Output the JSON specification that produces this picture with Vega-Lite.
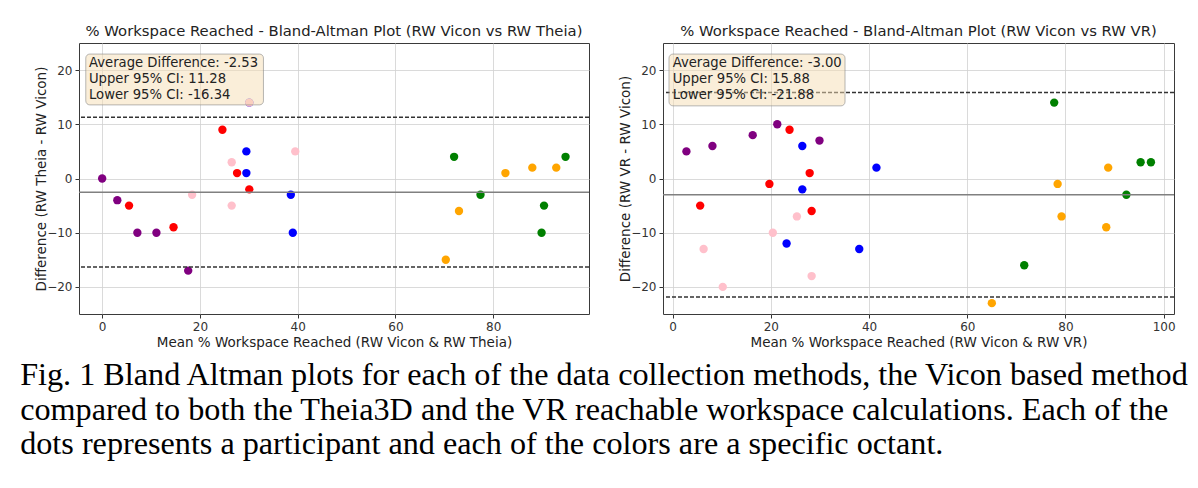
{
  "$schema": "https://vega.github.io/schema/vega-lite/v6.json",
  "background": "white",
  "padding": {"left": 20, "top": 23, "right": 5, "bottom": 5},
  "autosize": {"type": "pad"},
  "config": {
    "font": "DejaVu Sans",
    "view": {"stroke": "#3a3a3a", "strokeWidth": 1},
    "axis": {
      "grid": true, "gridColor": "#d0d0d0", "gridWidth": 0.8, "domain": false,
      "tickColor": "#333", "tickSize": 4, "labelFontSize": 12, "labelColor": "#333",
      "titleFontSize": 13.5, "titleFontWeight": "normal", "titleColor": "#222",
      "labelPadding": 3, "titlePadding": 5, "zindex": 1
    },
    "axisY": {"titlePadding": -2},
    "axisX": {"titlePadding": 3},
    "concat": {"spacing": 27},
    "title": {"fontSize": 14.8, "fontWeight": "normal", "color": "#222", "offset": 4}
  },
  "title": {
    "text": ["Fig. 1 Bland Altman plots for each of the data collection methods, the Vicon based method", "compared to both the Theia3D and the VR reachable workspace calculations.  Each of the", "dots represents a participant and each of the colors are a specific octant."],
    "orient": "bottom", "anchor": "start", "frame": "bounds", "font": "Liberation Serif", "fontSize": 32.2, "fontWeight": "normal", "lineHeight": 34.5, "color": "black", "offset": 11, "dx": -14
  },
  "datasets": {
    "theia": [
      {"octant": "purple", "mean": 0, "diff": 0}, {"octant": "purple", "mean": 3.1, "diff": -4}, {"octant": "purple", "mean": 7.2, "diff": -10}, {"octant": "purple", "mean": 11.1, "diff": -10}, {"octant": "purple", "mean": 17.6, "diff": -17},
      {"octant": "red", "mean": 24.6, "diff": 9}, {"octant": "red", "mean": 27.6, "diff": 1}, {"octant": "red", "mean": 30.1, "diff": -2}, {"octant": "red", "mean": 5.5, "diff": -5}, {"octant": "red", "mean": 14.6, "diff": -9},
      {"octant": "blue", "mean": 29.5, "diff": 5}, {"octant": "blue", "mean": 29.5, "diff": 1}, {"octant": "blue", "mean": 38.6, "diff": -3}, {"octant": "blue", "mean": 39.0, "diff": -10}, {"octant": "blue", "mean": 30.1, "diff": 14},
      {"octant": "pink", "mean": 26.5, "diff": 3}, {"octant": "pink", "mean": 39.5, "diff": 5}, {"octant": "pink", "mean": 18.4, "diff": -3}, {"octant": "pink", "mean": 26.5, "diff": -5}, {"octant": "pink", "mean": 30.1, "diff": 14},
      {"octant": "green", "mean": 72.0, "diff": 4}, {"octant": "green", "mean": 94.8, "diff": 4}, {"octant": "green", "mean": 77.4, "diff": -3}, {"octant": "green", "mean": 90.4, "diff": -5}, {"octant": "green", "mean": 89.9, "diff": -10},
      {"octant": "orange", "mean": 82.5, "diff": 1}, {"octant": "orange", "mean": 88.0, "diff": 2}, {"octant": "orange", "mean": 92.9, "diff": 2}, {"octant": "orange", "mean": 73.0, "diff": -6}, {"octant": "orange", "mean": 70.3, "diff": -15}
    ],
    "vr": [
      {"octant": "purple", "mean": 2.8, "diff": 5}, {"octant": "purple", "mean": 8.1, "diff": 6}, {"octant": "purple", "mean": 16.3, "diff": 8}, {"octant": "purple", "mean": 21.3, "diff": 10}, {"octant": "purple", "mean": 29.9, "diff": 7},
      {"octant": "red", "mean": 23.8, "diff": 9}, {"octant": "red", "mean": 27.9, "diff": 1}, {"octant": "red", "mean": 19.7, "diff": -1}, {"octant": "red", "mean": 5.6, "diff": -5}, {"octant": "red", "mean": 28.3, "diff": -6},
      {"octant": "blue", "mean": 26.4, "diff": 6}, {"octant": "blue", "mean": 41.5, "diff": 2}, {"octant": "blue", "mean": 26.4, "diff": -2}, {"octant": "blue", "mean": 23.2, "diff": -12}, {"octant": "blue", "mean": 38.0, "diff": -13},
      {"octant": "pink", "mean": 25.3, "diff": -7}, {"octant": "pink", "mean": 20.4, "diff": -10}, {"octant": "pink", "mean": 6.3, "diff": -13}, {"octant": "pink", "mean": 28.3, "diff": -18}, {"octant": "pink", "mean": 10.2, "diff": -20},
      {"octant": "green", "mean": 77.7, "diff": 14}, {"octant": "green", "mean": 95.3, "diff": 3}, {"octant": "green", "mean": 97.4, "diff": 3}, {"octant": "green", "mean": 92.4, "diff": -3}, {"octant": "green", "mean": 71.6, "diff": -16},
      {"octant": "orange", "mean": 78.4, "diff": -1}, {"octant": "orange", "mean": 79.2, "diff": -7}, {"octant": "orange", "mean": 88.7, "diff": 2}, {"octant": "orange", "mean": 88.3, "diff": -9}, {"octant": "orange", "mean": 65.0, "diff": -23}
    ],
    "theia_limits": [
      {"kind": "mean", "value": -2.53}, {"kind": "upper", "value": 11.28}, {"kind": "lower", "value": -16.34}
    ],
    "vr_limits": [
      {"kind": "mean", "value": -3.0}, {"kind": "upper", "value": 15.88}, {"kind": "lower", "value": -21.88}
    ]
  },
  "hconcat": [
    {
      "width": 510, "height": 271,
      "title": {"text": "% Workspace Reached - Bland-Altman Plot (RW Vicon vs RW Theia)"},
      "layer": [
        {
          "data": {"name": "theia"},
          "mark": {"type": "circle", "size": 70},
          "encoding": {
            "x": {"field": "mean", "type": "quantitative", "scale": {"domain": [-4.74, 99.6], "nice": false, "zero": false}, "axis": {"values": [0, 20, 40, 60, 80], "title": "Mean % Workspace Reached (RW Vicon & RW Theia)"}},
            "y": {"field": "diff", "type": "quantitative", "scale": {"domain": [-25, 25], "nice": false, "zero": false}, "axis": {"values": [-20, -10, 0, 10, 20], "title": "Difference (RW Theia - RW Vicon)"}},
            "color": {"field": "octant", "type": "nominal", "scale": {"domain": ["purple", "red", "blue", "pink", "green", "orange"], "range": ["#800080", "#ff0000", "#0000ff", "#ffc0cb", "#008000", "#ffa500"]}, "legend": null},
            "opacity": {"field": "octant", "type": "nominal", "scale": {"domain": ["purple", "red", "blue", "pink", "green", "orange"], "range": [1, 1, 1, 0.5, 1, 1]}, "legend": null}
          }
        },
        {
          "data": {"name": "theia_limits"},
          "transform": [{"filter": "datum.kind == 'mean'"}],
          "mark": {"type": "rule", "color": "#808080", "strokeWidth": 1.5},
          "encoding": {"y": {"field": "value", "type": "quantitative"}}
        },
        {
          "data": {"name": "theia_limits"},
          "transform": [{"filter": "datum.kind != 'mean'"}],
          "mark": {"type": "rule", "color": "#333333", "strokeWidth": 1.5, "strokeDash": [4, 2]},
          "encoding": {"y": {"field": "value", "type": "quantitative"}}
        },
        {
          "data": {"values": [{}]},
          "mark": {"type": "rect", "fill": "wheat", "fillOpacity": 0.5, "stroke": "#888", "strokeOpacity": 0.6, "strokeWidth": 1, "cornerRadius": 4},
          "encoding": {"x": {"datum": -3.35}, "x2": {"datum": 33.0}, "y": {"datum": 22.96}, "y2": {"datum": 13.58}}
        },
        {
          "data": {"values": [{}]},
          "mark": {"type": "text", "text": ["Average Difference: -2.53", "Upper 95% CI: 11.28", "Lower 95% CI: -16.34"], "align": "left", "baseline": "alphabetic", "fontSize": 13.2, "lineHeight": 16, "color": "#222"},
          "encoding": {"x": {"datum": -2.7}, "y": {"datum": 20.5}}
        }
      ]
    },
    {
      "width": 511, "height": 271,
      "title": {"text": "% Workspace Reached - Bland-Altman Plot (RW Vicon vs RW VR)"},
      "layer": [
        {
          "data": {"name": "vr"},
          "mark": {"type": "circle", "size": 70},
          "encoding": {
            "x": {"field": "mean", "type": "quantitative", "scale": {"domain": [-1.97, 102.1], "nice": false, "zero": false}, "axis": {"values": [0, 20, 40, 60, 80, 100], "title": "Mean % Workspace Reached (RW Vicon & RW VR)"}},
            "y": {"field": "diff", "type": "quantitative", "scale": {"domain": [-25, 25], "nice": false, "zero": false}, "axis": {"values": [-20, -10, 0, 10, 20], "title": "Difference (RW VR - RW Vicon)"}},
            "color": {"field": "octant", "type": "nominal", "scale": {"domain": ["purple", "red", "blue", "pink", "green", "orange"], "range": ["#800080", "#ff0000", "#0000ff", "#ffc0cb", "#008000", "#ffa500"]}, "legend": null},
            "opacity": {"field": "octant", "type": "nominal", "scale": {"domain": ["purple", "red", "blue", "pink", "green", "orange"], "range": [1, 1, 1, 0.5, 1, 1]}, "legend": null}
          }
        },
        {
          "data": {"name": "vr_limits"},
          "transform": [{"filter": "datum.kind == 'mean'"}],
          "mark": {"type": "rule", "color": "#808080", "strokeWidth": 1.5},
          "encoding": {"y": {"field": "value", "type": "quantitative"}}
        },
        {
          "data": {"name": "vr_limits"},
          "transform": [{"filter": "datum.kind != 'mean'"}],
          "mark": {"type": "rule", "color": "#333333", "strokeWidth": 1.5, "strokeDash": [4, 2]},
          "encoding": {"y": {"field": "value", "type": "quantitative"}}
        },
        {
          "data": {"values": [{}]},
          "mark": {"type": "rect", "fill": "wheat", "fillOpacity": 0.5, "stroke": "#888", "strokeOpacity": 0.6, "strokeWidth": 1, "cornerRadius": 4},
          "encoding": {"x": {"datum": -0.75}, "x2": {"datum": 35.1}, "y": {"datum": 22.96}, "y2": {"datum": 13.4}}
        },
        {
          "data": {"values": [{}]},
          "mark": {"type": "text", "text": ["Average Difference: -3.00", "Upper 95% CI: 15.88", "Lower 95% CI: -21.88"], "align": "left", "baseline": "alphabetic", "fontSize": 13.2, "lineHeight": 16, "color": "#222"},
          "encoding": {"x": {"datum": 0.0}, "y": {"datum": 20.5}}
        }
      ]
    }
  ]
}
